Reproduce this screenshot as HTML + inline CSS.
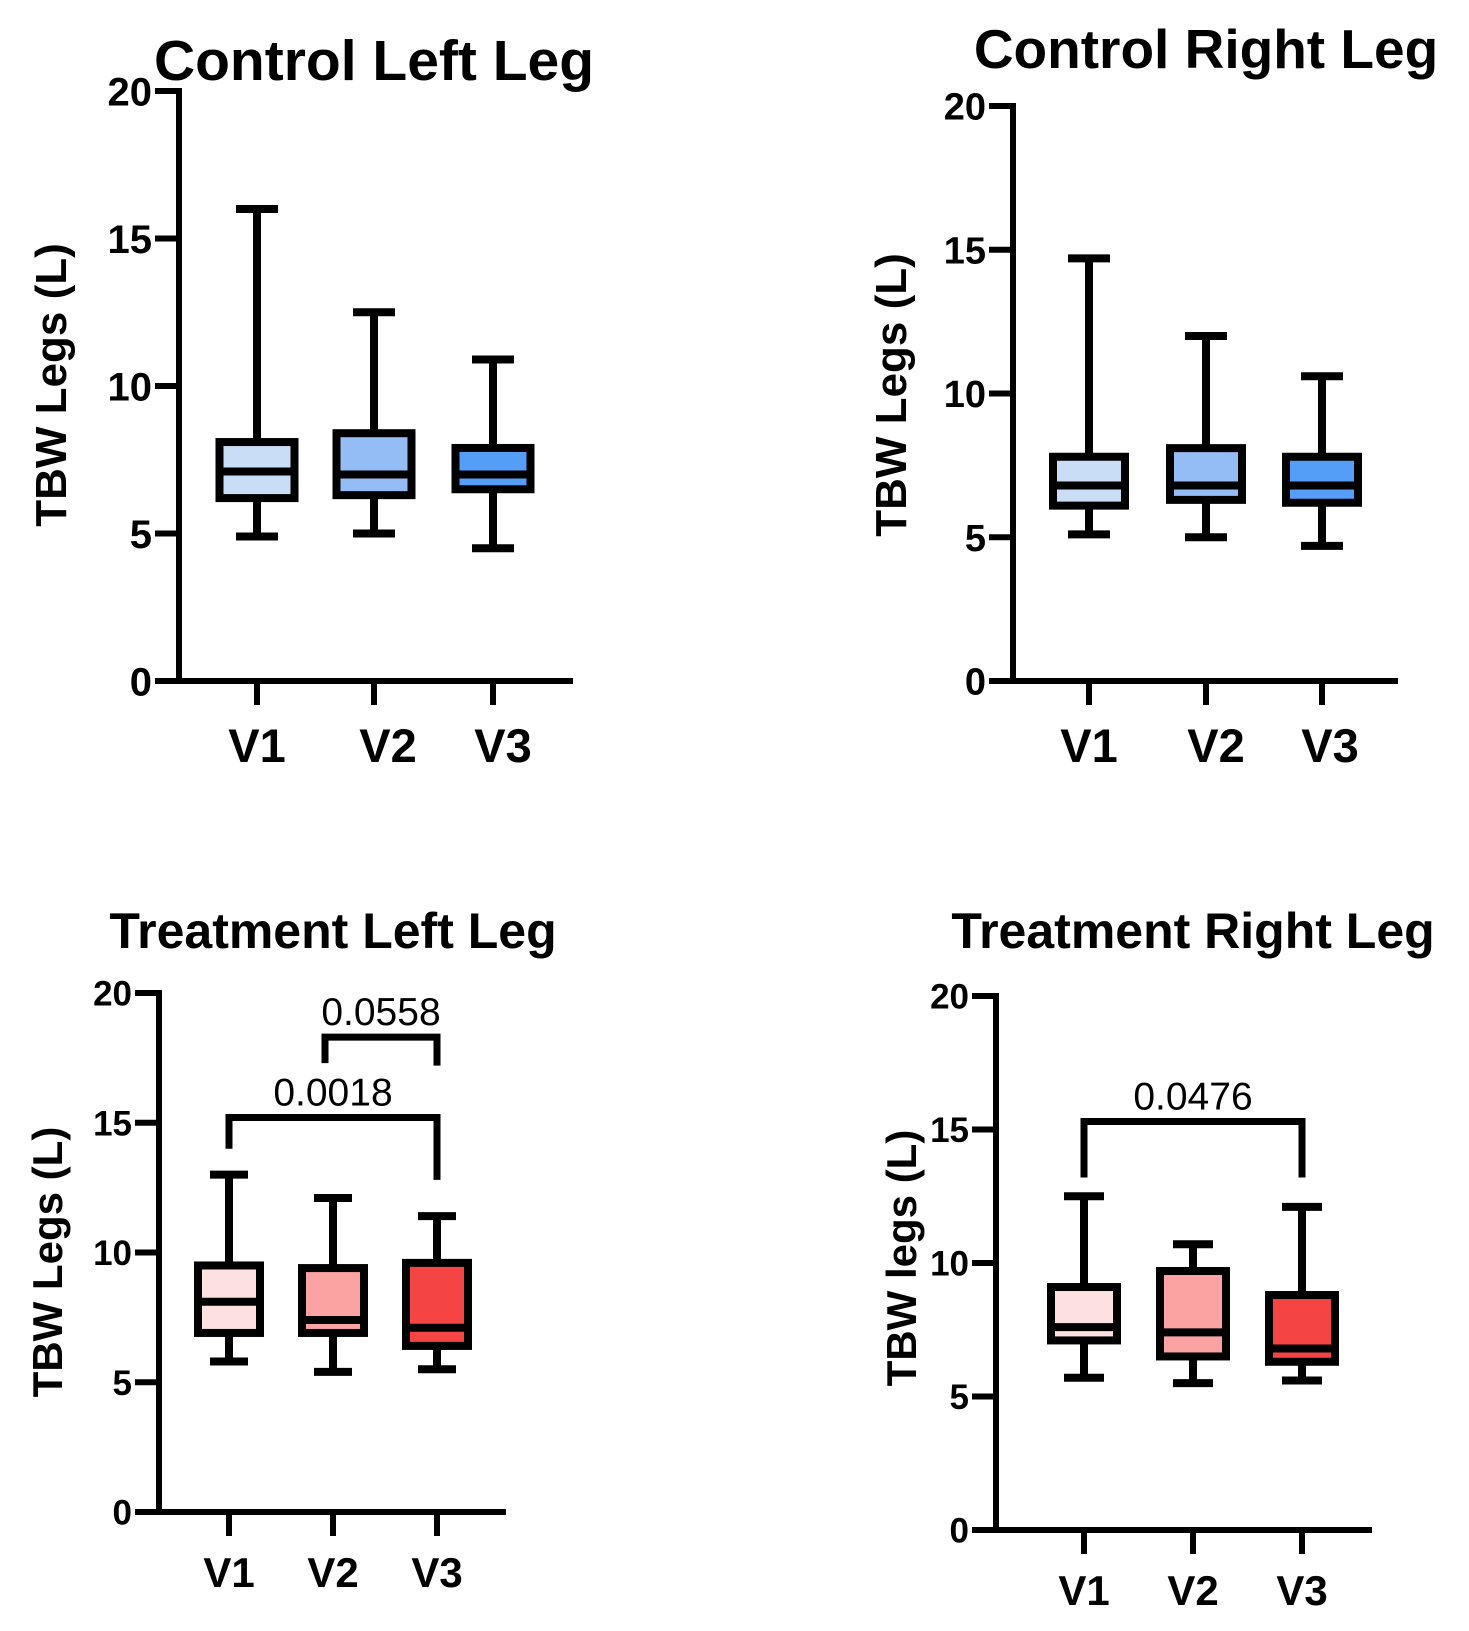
<!DOCTYPE html>
<html><head><meta charset="utf-8"><style>
html,body{margin:0;padding:0;background:#fff}
svg{display:block}
text{font-family:"Liberation Sans",Arial,sans-serif;fill:#000}
</style></head><body>
<svg id="chart" width="1469" height="1631" viewBox="0 0 1469 1631" xmlns="http://www.w3.org/2000/svg"></svg>
<script>
// ---- data ----
const categories = ["V1","V2","V3"];
const yTicks = [0,5,10,15,20];
const ctrlLeftMin = [4.9,5.0,4.5];
const ctrlLeftQ1 = [6.2,6.3,6.5];
const ctrlLeftMed = [7.1,7.0,7.0];
const ctrlLeftQ3 = [8.1,8.4,7.9];
const ctrlLeftMax = [16.0,12.5,10.9];
const ctrlRightMin = [5.1,5.0,4.7];
const ctrlRightQ1 = [6.1,6.3,6.2];
const ctrlRightMed = [6.8,6.8,6.8];
const ctrlRightQ3 = [7.8,8.1,7.8];
const ctrlRightMax = [14.7,12.0,10.6];
const trtLeftMin = [5.8,5.4,5.5];
const trtLeftQ1 = [6.9,6.9,6.4];
const trtLeftMed = [8.1,7.4,7.1];
const trtLeftQ3 = [9.5,9.4,9.6];
const trtLeftMax = [13.0,12.1,11.4];
const trtRightMin = [5.7,5.5,5.6];
const trtRightQ1 = [7.1,6.5,6.3];
const trtRightMed = [7.6,7.4,6.8];
const trtRightQ3 = [9.1,9.7,8.8];
const trtRightMax = [12.5,10.7,12.1];
const trtLeftPvals = ["0.0018","0.0558"];
const trtRightPvals = ["0.0476"];

const NS="http://www.w3.org/2000/svg";
const svg=document.getElementById('chart');
function mk(tag,attrs,parent){const e=document.createElementNS(NS,tag);for(const k in attrs)e.setAttribute(k,attrs[k]);(parent||svg).appendChild(e);return e;}

function panel(p){
  const g=mk('g',{});
  
  
  const y=v=>p.y0-(v/20)*(p.y0-p.y20);
  const x=i=>p.xs[i];
  const t=mk('text',{x:p.tx,y:p.ty,'font-size':p.tfs,'font-weight':'bold','text-anchor':'middle'},g);
  t.textContent=p.title;
  
  
  const yl=mk('text',{x:0,y:0,'font-size':p.lfs,'font-weight':'bold','text-anchor':'middle',transform:`translate(${p.lx},${p.ly}) rotate(-90)`},g);
  yl.textContent=p.ylabel;
  
  
  const ax=mk('path',{d:`M${p.ax} ${p.y20-3} V${p.y0} M${p.ax-p.tickLen} ${p.y0} H${p.xEnd}`,stroke:'#000','stroke-width':6,fill:'none'},g);
  
  
  yTicks.forEach(v=>{
    const tk=mk('line',{x1:p.ax-p.tickLen,x2:p.ax,y1:y(v),y2:y(v),stroke:'#000','stroke-width':6},g);
    
    
    const tl=mk('text',{x:p.ax-p.tickLen-3,y:y(v)+p.tkfs*0.36,'font-size':p.tkfs,'font-weight':'bold','text-anchor':'end'},g);
    tl.textContent=v;
    
    
  });
  categories.forEach((c,i)=>{
    const tk=mk('line',{x1:x(i),x2:x(i),y1:p.y0,y2:p.y0+p.tickLen,stroke:'#000','stroke-width':6},g);
    
    
    const tl=mk('text',{x:x(i)+(p.xlo?p.xlo[i]:0),y:p.xly,'font-size':p.xfs,'font-weight':'bold','text-anchor':'middle'},g);
    tl.textContent=c;
    
    
    const bw=p.bw, cw=p.cw, cx=x(i);
    const wh=mk('path',{d:`M${cx} ${y(p.mx[i])} V${y(p.q3[i])} M${cx} ${y(p.q1[i])} V${y(p.mn[i])} M${cx-cw/2} ${y(p.mx[i])} H${cx+cw/2} M${cx-cw/2} ${y(p.mn[i])} H${cx+cw/2}`,stroke:'#000','stroke-width':8,fill:'none'},g);
    
    
    const bx=mk('rect',{x:cx-bw/2,y:y(p.q3[i]),width:bw,height:y(p.q1[i])-y(p.q3[i]),fill:p.colors[i],stroke:'#000','stroke-width':8},g);
    
    
    const md=mk('line',{x1:cx-bw/2,x2:cx+bw/2,y1:y(p.md[i]),y2:y(p.md[i]),stroke:'#000','stroke-width':8},g);
    
    
  });
  (p.brackets||[]).forEach(b=>{
    const br=mk('path',{d:`M${x(b.a)+(b.ao||0)} ${y(b.la)} V${y(b.v)} H${x(b.b)} V${y(b.lb)}`,stroke:'#000','stroke-width':7,fill:'none'},g);
    
    
    const bt=mk('text',{x:(x(b.a)+(b.ao||0)+x(b.b))/2,y:y(b.v)-12,'font-size':p.pfs,'text-anchor':'middle'},g);
    bt.textContent=b.label;
    
    
  });
}

panel({name:'control-left-leg-panel',title:'Control Left Leg',ylabel:'TBW Legs (L)',
  ax:179,y0:681,y20:91,xs:[257,374,493],xEnd:573,tickLen:24,xlo:[0,14,10],
  tx:374,ty:80,tfs:57,lx:66,ly:385,lfs:44,tkfs:40,xfs:47,xly:762,bw:75,cw:42,
  mn:ctrlLeftMin,q1:ctrlLeftQ1,md:ctrlLeftMed,q3:ctrlLeftQ3,mx:ctrlLeftMax,
  colors:['#c9ddf7','#94bdf5','#559ef7']});
panel({name:'control-right-leg-panel',title:'Control Right Leg',ylabel:'TBW Legs (L)',
  ax:1013,y0:681,y20:106,xs:[1089,1206,1322],xEnd:1398,tickLen:24,xlo:[0,10,8],
  tx:1206,ty:68,tfs:55,lx:906,ly:395,lfs:44,tkfs:38,xfs:47,xly:762,bw:72,cw:42,
  mn:ctrlRightMin,q1:ctrlRightQ1,md:ctrlRightMed,q3:ctrlRightQ3,mx:ctrlRightMax,
  colors:['#c9ddf7','#94bdf5','#559ef7']});
panel({name:'treatment-left-leg-panel',title:'Treatment Left Leg',ylabel:'TBW Legs (L)',
  ax:159,y0:1512,y20:993,xs:[229,333,437],xEnd:506,tickLen:24,
  tx:333,ty:948,tfs:50,lx:62,ly:1262,lfs:42,tkfs:35,xfs:42,xly:1587,bw:62,cw:38,
  mn:trtLeftMin,q1:trtLeftQ1,md:trtLeftMed,q3:trtLeftQ3,mx:trtLeftMax,
  colors:['#fde0e0','#fba2a2','#f44444'],pfs:39,
  brackets:[{a:0,b:2,v:15.2,la:14.0,lb:12.8,label:trtLeftPvals[0]},{a:1,b:2,ao:-8,v:18.3,la:17.3,lb:17.2,label:trtLeftPvals[1]}]});
panel({name:'treatment-right-leg-panel',title:'Treatment Right Leg',ylabel:'TBW legs (L)',
  ax:996,y0:1530,y20:996,xs:[1084,1193,1302],xEnd:1372,tickLen:24,
  tx:1193,ty:948,tfs:50,lx:916,ly:1258,lfs:42,tkfs:35,xfs:42,xly:1605,bw:66,cw:40,
  mn:trtRightMin,q1:trtRightQ1,md:trtRightMed,q3:trtRightQ3,mx:trtRightMax,
  colors:['#fde0e0','#fba2a2','#f44444'],pfs:39,
  brackets:[{a:0,b:2,v:15.3,la:13.2,lb:13.2,label:trtRightPvals[0]}]});
</script>
</body></html>
